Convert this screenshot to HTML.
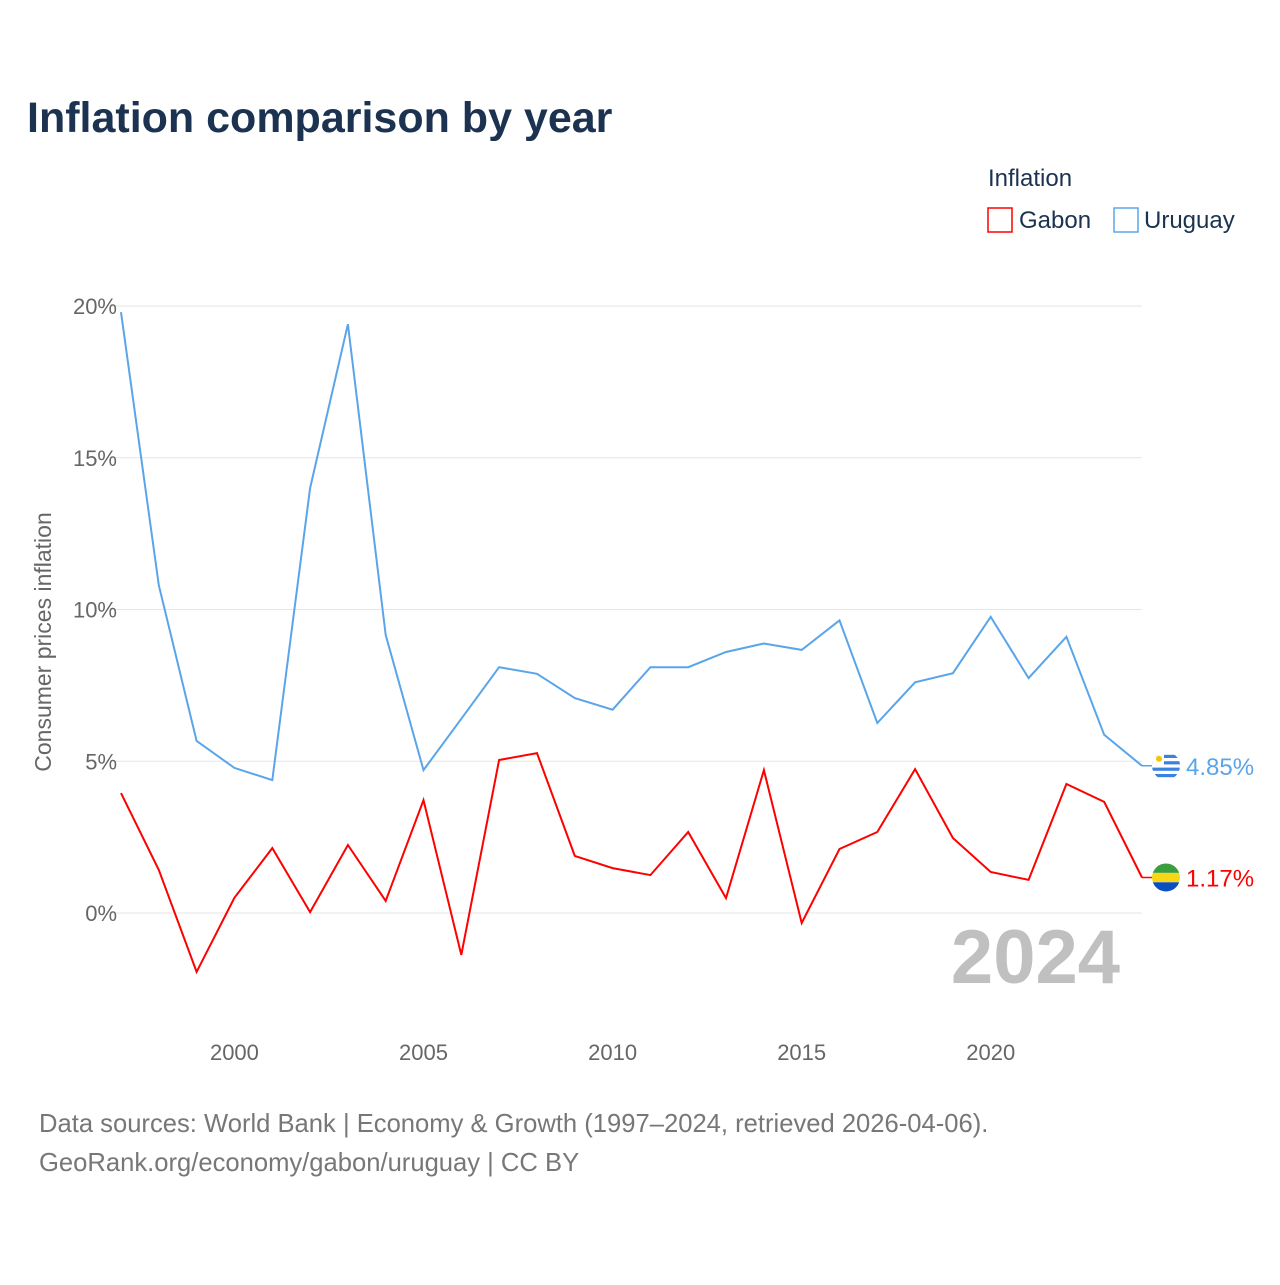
<!DOCTYPE html>
<html><head><meta charset="utf-8"><style>
body{margin:0;background:#fff;font-family:"Liberation Sans",sans-serif;}
svg text{font-family:"Liberation Sans",sans-serif;}
</style></head><body>
<svg id="chart" width="1280" height="1280" viewBox="0 0 1280 1280" xmlns="http://www.w3.org/2000/svg">
<defs>
<clipPath id="uc"><circle id="ucc" cx="1166" cy="0" r="14"/></clipPath>
<clipPath id="gc"><circle id="gcc" cx="1166" cy="0" r="14"/></clipPath>
</defs>
<text x="27" y="132" font-size="43" font-weight="bold" fill="#1b3250">Inflation comparison by year</text>
<g>
<text x="988" y="186" font-size="24" fill="#1b3250">Inflation</text>
<g><rect x="988" y="208" width="24" height="24" fill="none" stroke="#ff0000" stroke-width="1.5"/><text x="1019" y="228" font-size="24" fill="#1b3250">Gabon</text></g>
<g><rect x="1114" y="208" width="24" height="24" fill="none" stroke="#5aa5ea" stroke-width="1.5"/><text x="1144" y="228" font-size="24" fill="#1b3250">Uruguay</text></g>
</g>
<g id="grid"></g>
<g id="yticks"></g>
<g id="xticks"></g>
<text transform="translate(51,642) rotate(-90)" text-anchor="middle" font-size="23" fill="#666">Consumer prices inflation</text>
<text x="1120" y="983" text-anchor="end" font-size="76" font-weight="bold" fill="#c0c0c0">2024</text>
<g id="series"></g>
<text x="39" y="1132" font-size="25.6" fill="#777">Data sources: World Bank | Economy &amp; Growth (1997–2024, retrieved 2026-04-06).</text>
<text x="39" y="1171" font-size="25.6" fill="#777">GeoRank.org/economy/gabon/uruguay | CC BY</text>
</svg>
<script>
const years=[1997,1998,1999,2000,2001,2002,2003,2004,2005,2006,2007,2008,2009,2010,2011,2012,2013,2014,2015,2016,2017,2018,2019,2020,2021,2022,2023,2024];
const uruguay=[19.8,10.8,5.67,4.78,4.38,14.0,19.4,9.16,4.71,6.4,8.1,7.88,7.08,6.7,8.1,8.1,8.6,8.88,8.67,9.64,6.26,7.6,7.9,9.76,7.74,9.1,5.87,4.85];
const gabon=[3.95,1.42,-1.94,0.5,2.14,0.03,2.24,0.4,3.72,-1.38,5.04,5.27,1.88,1.48,1.25,2.67,0.49,4.71,-0.33,2.11,2.67,4.74,2.47,1.35,1.09,4.25,3.66,1.17];
const yTicks=[0,5,10,15,20];
const xTicks=[2000,2005,2010,2015,2020];
const NS="http://www.w3.org/2000/svg";
const X=y=>121+(y-1997)*(1142-121)/27;
const Y=v=>913-v*(913-306)/20;
function mk(tag,attrs,parent){const e=document.createElementNS(NS,tag);for(const k in attrs)e.setAttribute(k,attrs[k]);parent.appendChild(e);return e;}
const grid=document.getElementById('grid'),yt=document.getElementById('yticks'),xt=document.getElementById('xticks'),ser=document.getElementById('series');
yTicks.forEach(t=>{
 const l=mk('line',{x1:110,x2:1142,y1:Y(t),y2:Y(t),stroke:'#e6e6e6','stroke-width':1},grid);
 
 
 const tx=mk('text',{x:117,y:Y(t)+8,'text-anchor':'end','font-size':22,fill:'#666'},yt);
 tx.textContent=t+'%';
 
 
});
xTicks.forEach(t=>{
 const tx=mk('text',{x:X(t),y:1060,'text-anchor':'middle','font-size':22,fill:'#666'},xt);
 tx.textContent=t;
 
 
});
function line(vals,color,name){
 const d=vals.map((v,i)=>(i?'L':'M')+X(years[i]).toFixed(1)+' '+Y(v).toFixed(1)).join(' ');
 const p=mk('path',{d:d,fill:'none',stroke:color,'stroke-width':2,'stroke-linejoin':'miter'},ser);
 
 
 const last=vals[vals.length-1],ly=Y(last);
 const c=mk('line',{x1:X(2024),x2:1160,y1:ly,y2:ly,stroke:color,'stroke-width':1.5},ser);
 
 
 const lbl=mk('text',{x:1186,y:ly+9,'font-size':24,fill:color},ser);
 lbl.textContent=last.toFixed(2)+'%';
 
 
 return ly;
}
const uy=line(uruguay,'#5aa5ea','uruguay');
const gy=line(gabon,'#ff0000','gabon');
document.getElementById('ucc').setAttribute('cy',uy);
document.getElementById('gcc').setAttribute('cy',gy);
const fu=mk('g',{'clip-path':'url(#uc)'},ser);


mk('rect',{x:1150,y:uy-14,width:32,height:28,fill:'#fff'},fu);
for(let i=0;i<4;i++)mk('rect',{x:1150,y:uy-11+i*6.4,width:32,height:3.2,fill:'#3b82e0'},fu);
mk('rect',{x:1150,y:uy-14,width:14,height:14,fill:'#fff'},fu);
mk('circle',{cx:1159,cy:uy-7,r:3,fill:'#f5c400'},fu);
const fg=mk('g',{'clip-path':'url(#gc)'},ser);


mk('rect',{x:1150,y:gy-14,width:32,height:9.4,fill:'#3a9e3f'},fg);
mk('rect',{x:1150,y:gy-4.6,width:32,height:9.4,fill:'#f9d616'},fg);
mk('rect',{x:1150,y:gy+4.8,width:32,height:9.4,fill:'#0a4fc0'},fg);
</script>
</body></html>
